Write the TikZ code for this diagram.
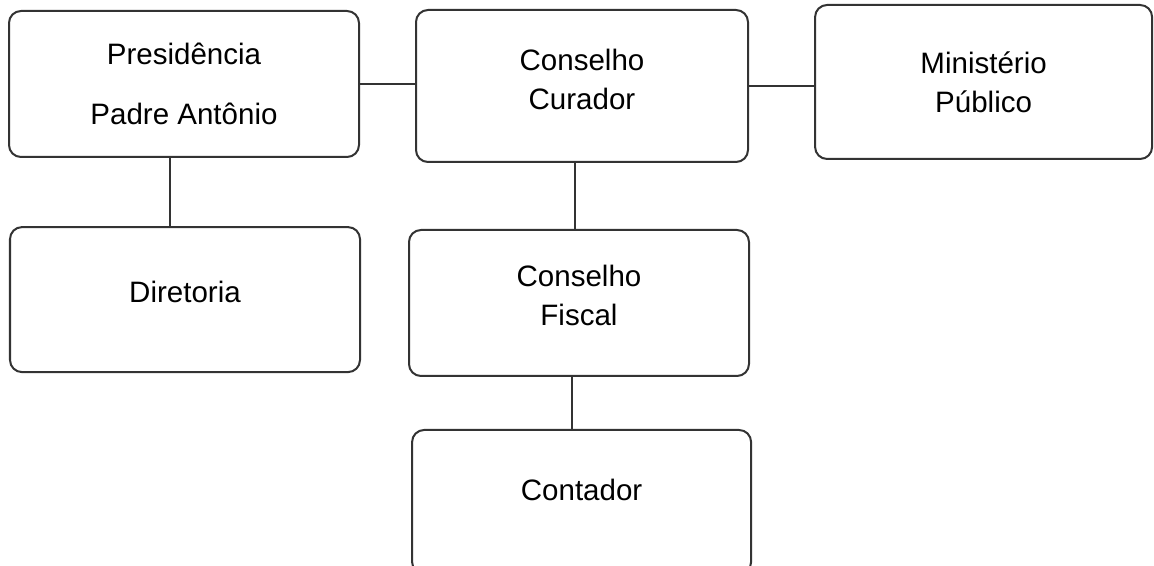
\documentclass[tikz,border=0pt]{standalone}
\usepackage{fontspec}
\setmainfont{Liberation Sans}
\usetikzlibrary{calc}

\begin{document}
\begin{tikzpicture}[caixa/.style={draw=black!80, line width=0.05cm, rounded corners=0.3cm, align=center, font=\fontsize{21}{28}\selectfont},
                    linha/.style={draw=black!80, line width=0.05cm}]
                \useasboundingbox (0,0) rectangle (28.85,14.15);
                \clip (0,0) rectangle (28.85,14.15);

                \node[caixa, minimum width=8.75cm, minimum height=3.65cm] (pres) at (4.6,12.05) {Presidência\\[0.5cm]Padre Antônio};
                \node[caixa, minimum width=8.3cm, minimum height=3.8cm, text depth=0.35cm] (cur) at (14.55,12.0) {Conselho\\Curador};
                \node[caixa, minimum width=8.425cm, minimum height=3.85cm] (min) at (24.59,12.1) {Ministério\\Público};
                \node[caixa, minimum width=8.75cm, minimum height=3.625cm, text depth=0.4cm] (dir) at (4.625,6.66) {Diretoria};
                \node[caixa, minimum width=8.5cm, minimum height=3.65cm, text depth=0.4cm] (fis) at (14.475,6.575) {Conselho\\Fiscal};
                \node[caixa, minimum width=8.475cm, minimum height=3.6cm, text depth=0.6cm] (cont) at (14.54,1.6) {Contador};

                \coordinate (p1) at ([xshift=-0.35cm]pres.south);
                \coordinate (c1) at ([xshift=-0.18cm]cur.south);
                \coordinate (f1) at ([xshift=-0.18cm]fis.south);

                \draw[linha] (pres.east) -- (pres.east -| cur.west);
                \draw[linha] (cur.east) -- (cur.east -| min.west);
                \draw[linha] (p1) -- (p1 |- dir.north);
                \draw[linha] (c1) -- (c1 |- fis.north);
                \draw[linha] (f1) -- (f1 |- cont.north);
            \end{tikzpicture}
\end{document}
